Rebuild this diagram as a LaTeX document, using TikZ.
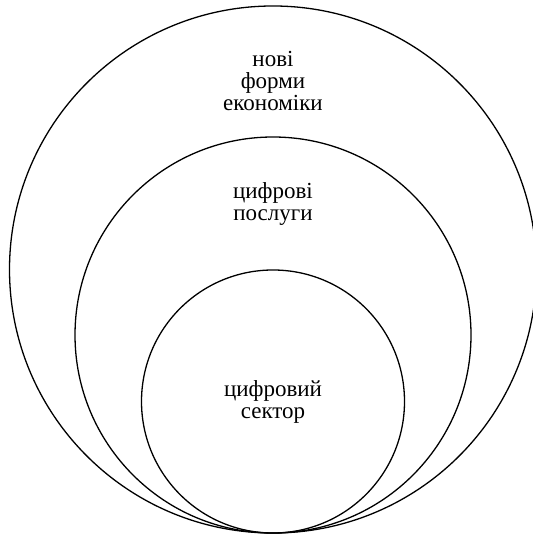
\documentclass[tikz,border=0pt]{standalone}
\usepackage{fontspec}
\setmainfont{Liberation Serif}
\newfontfamily\ringfont{Liberation Serif}
\usetikzlibrary{positioning}
\tikzset{
    node distance=22.5pt, % Gap between the top of a ring and its label
    ring/.style={ % Sets the properties for each ring
        circle,
        draw,
        line width=0.65pt,
        inner sep=0pt,
        outer sep=0pt,
        anchor=south % All rings sit on the same point
    },
    lbl/.style={ % Sets the properties for each label
        align=center,
        inner sep=0pt,
        font=\ringfont\fontsize{11.5}{11}\selectfont
    },
}

\begin{document}
\begin{tikzpicture}
            \useasboundingbox (0,0) rectangle (266pt,270pt);
            \coordinate (touch) at (136.5pt,3.5pt);
            \node[ring, minimum size=263.5pt] (outer)  at (touch) {};
            \node[ring, minimum size=198pt]   (mid)    at (touch) {};
            \node[ring, minimum size=131.5pt] (inner)  at (touch) {};
            \node[lbl, below=of outer.north]  (forms)    {нові\\форми\\економіки};
            \node[lbl, below=of mid.north]    (services) {цифрові\\послуги};
            \node[lbl]                        (sector) at (inner) {цифровий\\сектор};
            %\draw[step=10pt,gray,very thin]
            %        (0,0) grid (266pt,270pt);
\end{tikzpicture}
\end{document}
